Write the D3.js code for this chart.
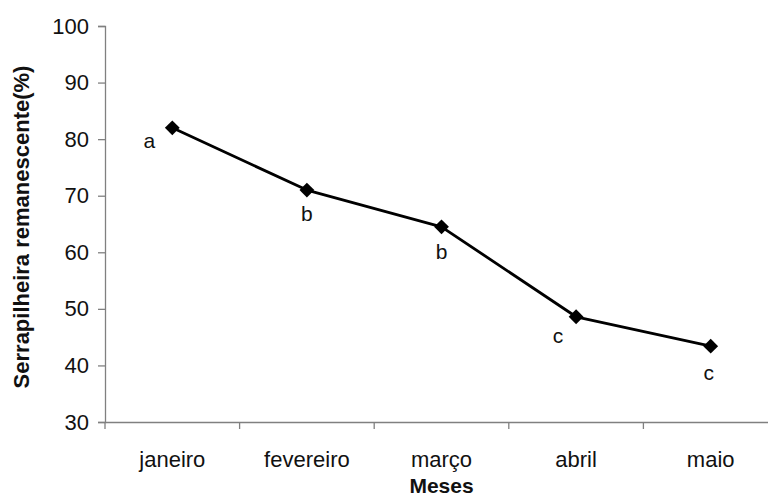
<!DOCTYPE html>
<html>
<head>
<meta charset="utf-8">
<script src="https://cdn.jsdelivr.net/npm/d3@7"></script>
<style>
  html, body { margin: 0; padding: 0; background: #fff; }
  svg { display: block; }
  text { font-family: "Liberation Sans", Arial, sans-serif; fill: #111; }
</style>
</head>
<body>
<svg id="chart" width="768" height="496"></svg>
<script>
// Remaining litter per month
const months = ["janeiro", "fevereiro", "março", "abril", "maio"];
const remaining = [82, 71, 64.5, 48.6, 43.4];
const groups = ["a", "b", "b", "c", "c"];
const yTicks = [30, 40, 50, 60, 70, 80, 90, 100];

// Letter placement relative to each marker (dx, dy)
const letterOffsets = [[-23, 15], [0, 25], [0, 27], [-18, 21], [-2, 28]];

const svg = d3.select("#chart");
const plot = { left: 105, right: 778, top: 26, bottom: 422 };

const x = d3.scaleBand().domain(months).range([plot.left, plot.right]).padding(0);
const y = d3.scaleLinear().domain([30, 100]).range([plot.bottom, plot.top]);

const axisColor = "#808080";

// Y axis
const yAxis = svg.append("g")
  .attr("transform", `translate(${plot.left},0)`)
  .call(d3.axisLeft(y).tickValues(yTicks).tickSize(7).tickPadding(9).tickFormat(d3.format("d")));
yAxis.select(".domain").attr("stroke", axisColor).attr("stroke-width", 1.3);
yAxis.selectAll(".tick line").attr("stroke", axisColor).attr("stroke-width", 1.3);
yAxis.selectAll(".tick text")
  .style("font-size", "22px")
  .attr("fill", "#111");

// X axis: labels centred in each band, ticks on band boundaries
const xAxis = svg.append("g")
  .attr("transform", `translate(0,${plot.bottom})`)
  .call(d3.axisBottom(x).tickSize(0).tickPadding(29));
xAxis.select(".domain").attr("stroke", axisColor).attr("stroke-width", 1.3);
xAxis.selectAll(".tick text")
  .style("font-size", "22px")
  .attr("fill", "#111");

const boundaries = months.map(m => x(m));
xAxis.selectAll(".bound")
  .data(boundaries)
  .join("line")
  .attr("class", "bound")
  .attr("x1", d => d).attr("x2", d => d)
  .attr("y1", 0).attr("y2", 7)
  .attr("stroke", axisColor).attr("stroke-width", 1.3);

// Axis titles
svg.append("text")
  .attr("transform", `translate(23,${(plot.top + plot.bottom) / 2 + 3}) rotate(-90)`)
  .attr("text-anchor", "middle")
  .attr("dominant-baseline", "middle")
  .style("font-size", "22px")
  .style("font-weight", "bold")
  .text("Serrapilheira remanescente(%)");

svg.append("text")
  .attr("x", (plot.left + plot.right) / 2)
  .attr("y", 493)
  .attr("text-anchor", "middle")
  .style("font-size", "21px")
  .style("font-weight", "bold")
  .text("Meses");

// Line
const cx = m => x(m) + x.bandwidth() / 2;
const pts = months.map((m, i) => [cx(m), y(remaining[i])]);

svg.append("path")
  .datum(pts)
  .attr("fill", "none")
  .attr("stroke", "#000")
  .attr("stroke-width", 2.8)
  .attr("stroke-linejoin", "round")
  .attr("d", d3.line());

// Diamond markers
svg.selectAll(".marker")
  .data(pts)
  .join("path")
  .attr("class", "marker")
  .attr("transform", d => `translate(${d[0]},${d[1]})`)
  .attr("d", d3.symbol(d3.symbolDiamond2, 140)())
  .attr("fill", "#000");

// Group letters
svg.selectAll(".letter")
  .data(pts)
  .join("text")
  .attr("class", "letter")
  .attr("x", (d, i) => d[0] + letterOffsets[i][0])
  .attr("y", (d, i) => d[1] + letterOffsets[i][1])
  .attr("text-anchor", "middle")
  .attr("dominant-baseline", "middle")
  .style("font-size", "21px")
  .text((d, i) => groups[i]);
</script>
</body>
</html>
